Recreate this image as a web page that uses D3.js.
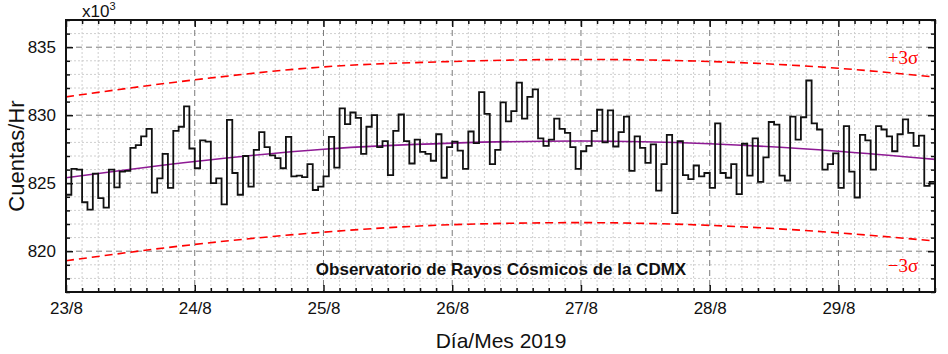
<!DOCTYPE html>
<html lang="es">
<head>
<meta charset="UTF-8">
<title>Cuentas/Hr</title>
<style>
  body { margin: 0; background: #fff; }
  #main { width: 948px; height: 354px; }
  text { font-family: "Liberation Sans", Arial, sans-serif; }
</style>
</head>
<body>
<div id="main"></div>
<script src="https://d3js.org/d3.v7.min.js"></script>
<script>
// ---- data (x 1000 counts per hour, one value per hour from 23/8 00:00) ----
const hourlyCounts = [
  824.15, 826.05, 826.0, 823.6, 823.05, 825.7, 823.9, 823.2, 826.0, 824.7,
  825.85, 825.9, 827.6, 827.8, 828.45, 829.0, 824.3, 825.35, 827.15, 824.65,
  828.85, 829.15, 830.65, 827.55, 826.1, 828.15, 828.05, 825.0, 825.35, 823.45,
  829.65, 825.75, 824.15, 827.0, 824.75, 827.45, 828.75, 827.65, 827.05, 826.85,
  826.1, 828.4, 825.5, 825.55, 825.45, 826.4, 824.5, 824.75, 825.5, 828.4,
  826.15, 830.5, 829.35, 830.2, 829.8, 827.15, 829.15, 830.0, 827.65, 828.1,
  825.6, 828.85, 830.05, 828.1, 826.45, 828.2, 827.3, 827.15, 826.65, 828.6,
  825.4, 827.65, 828.05, 827.4, 826.05, 828.8, 827.95, 831.7, 830.1, 826.4,
  827.45, 830.95, 829.55, 830.3, 832.4, 829.75, 831.35, 831.9, 828.3, 827.75,
  828.2, 829.75, 829.0, 828.7, 827.65, 826.05, 827.35, 827.75, 828.85, 830.4,
  828.0, 830.35, 827.7, 828.75, 829.9, 825.9, 828.45, 827.6, 826.5, 827.85,
  824.45, 826.4, 828.55, 822.8, 828.1, 825.6, 825.3, 826.3, 825.5, 825.75,
  824.65, 829.4, 825.75, 825.4, 826.4, 824.2, 827.9, 825.55, 828.3, 825.1,
  826.9, 829.5, 829.3, 825.55, 825.2, 829.9, 828.2, 829.85, 832.55, 829.4,
  828.95, 826.0, 826.4, 827.2, 824.65, 829.2, 825.85, 823.95, 828.55, 828.15,
  826.0, 829.2, 828.95, 828.45, 827.35, 828.6, 829.7, 828.7, 827.75, 828.5,
  824.8, 825.1
];

// fitted trend and +-3 sigma bands, read at each day and at the end
const curveHours = [0, 24, 48, 72, 96, 120, 144, 162];
const fitValues  = [825.4, 826.6, 827.5, 827.95, 828.1, 827.9, 827.35, 826.75];
const upperBand  = [831.35, 832.6, 833.55, 833.95, 834.1, 833.95, 833.45, 832.8];
const lowerBand  = [819.3, 820.5, 821.4, 821.95, 822.1, 821.9, 821.35, 820.75];

// axis ticks
const dayHours  = [0, 24, 48, 72, 96, 120, 144];
const dayLabels = ['23/8', '24/8', '25/8', '26/8', '27/8', '28/8', '29/8'];
const yMajor    = [820, 825, 830, 835];

// ---- container ----
const W = 948, H = 354;
const pLeft = 66, pRight = 935, pTop = 20, pBottom = 292;

const svg = d3.select('#main').append('svg')
  .attr('width', W).attr('height', H)
  .attr('viewBox', `0 0 ${W} ${H}`);

const x = d3.scaleLinear().domain([0, 162]).range([pLeft, pRight]);
const y = d3.scaleLinear().domain([817, 837]).range([pBottom, pTop]);

const xMinor = d3.range(0, 163, 3).filter(h => h % 24 !== 0);
const yMinor = d3.range(817, 838, 1).filter(v => !yMajor.includes(v));

// ---- grid ----
const grid = svg.append('g');
grid.selectAll('.vmin').data(xMinor).join('line')
  .attr('x1', d => x(d)).attr('x2', d => x(d)).attr('y1', pTop).attr('y2', pBottom)
  .attr('stroke', '#cfcfcf').attr('stroke-dasharray', '2,2');
grid.selectAll('.hmin').data(yMinor).join('line')
  .attr('x1', pLeft).attr('x2', pRight).attr('y1', d => y(d)).attr('y2', d => y(d))
  .attr('stroke', '#cfcfcf').attr('stroke-dasharray', '2,2');
grid.selectAll('.vmaj').data(dayHours.slice(1)).join('line')
  .attr('x1', d => x(d)).attr('x2', d => x(d)).attr('y1', pTop).attr('y2', pBottom)
  .attr('stroke', '#7a7a7a').attr('stroke-dasharray', '6,4');
grid.selectAll('.hmaj').data(yMajor).join('line')
  .attr('x1', pLeft).attr('x2', pRight).attr('y1', d => y(d)).attr('y2', d => y(d))
  .attr('stroke', '#7a7a7a').attr('stroke-dasharray', '6,4');

// ---- curves ----
svg.append('clipPath').attr('id', 'plot')
  .append('rect').attr('x', pLeft).attr('y', pTop)
  .attr('width', pRight - pLeft).attr('height', pBottom - pTop);
const plot = svg.append('g').attr('clip-path', 'url(#plot)');

const smooth = d3.line().x(d => x(d[0])).y(d => y(d[1])).curve(d3.curveMonotoneX);

[upperBand, lowerBand].forEach(band => {
  plot.append('path')
    .datum(curveHours.map((h, i) => [h, band[i]]))
    .attr('d', smooth)
    .attr('fill', 'none').attr('stroke', '#ff0000')
    .attr('stroke-width', 1.6).attr('stroke-dasharray', '8,5');
});

plot.append('path')
  .datum(curveHours.map((h, i) => [h, fitValues[i]]))
  .attr('d', smooth)
  .attr('fill', 'none').attr('stroke', '#8e1a94').attr('stroke-width', 1.6);

const stepPts = hourlyCounts.map((v, i) => [i, v]);
stepPts.push([hourlyCounts.length, hourlyCounts[hourlyCounts.length - 1]]);
plot.append('path')
  .datum(stepPts)
  .attr('d', d3.line().x(d => x(d[0])).y(d => y(d[1])).curve(d3.curveStepAfter))
  .attr('fill', 'none').attr('stroke', '#111').attr('stroke-width', 1.8);

// ---- axes (inward ticks on all four sides) ----
function styleAxis(g) {
  g.select('.domain').remove();
  g.selectAll('line').attr('stroke', '#111').attr('stroke-width', 1.5);
}
const tickFont = g => g.selectAll('text')
  .attr('font-size', '17px').attr('fill', '#111')
  .style('font-family', '"Liberation Sans", Arial, sans-serif');

// bottom
svg.append('g').attr('transform', `translate(0,${pBottom})`)
  .call(d3.axisBottom(x).tickValues(xMinor).tickSize(-4).tickFormat(''))
  .call(styleAxis);
svg.append('g').attr('transform', `translate(0,${pBottom})`)
  .call(d3.axisBottom(x).tickValues(dayHours).tickSize(-7).tickPadding(10)
    .tickFormat((d, i) => dayLabels[i]))
  .call(styleAxis).call(tickFont);
// top
svg.append('g').attr('transform', `translate(0,${pTop})`)
  .call(d3.axisTop(x).tickValues(xMinor).tickSize(-4).tickFormat(''))
  .call(styleAxis);
svg.append('g').attr('transform', `translate(0,${pTop})`)
  .call(d3.axisTop(x).tickValues(dayHours).tickSize(-7).tickFormat(''))
  .call(styleAxis);
// left
svg.append('g').attr('transform', `translate(${pLeft},0)`)
  .call(d3.axisLeft(y).tickValues(yMinor).tickSize(-4).tickFormat(''))
  .call(styleAxis);
svg.append('g').attr('transform', `translate(${pLeft},0)`)
  .call(d3.axisLeft(y).tickValues(yMajor).tickSize(-7).tickPadding(10).tickFormat(d3.format('d')))
  .call(styleAxis).call(tickFont);
// right
svg.append('g').attr('transform', `translate(${pRight},0)`)
  .call(d3.axisRight(y).tickValues(yMinor).tickSize(-4).tickFormat(''))
  .call(styleAxis);
svg.append('g').attr('transform', `translate(${pRight},0)`)
  .call(d3.axisRight(y).tickValues(yMajor).tickSize(-7).tickFormat(''))
  .call(styleAxis);

// frame
svg.append('rect')
  .attr('x', pLeft).attr('y', pTop).attr('width', pRight - pLeft).attr('height', pBottom - pTop)
  .attr('fill', 'none').attr('stroke', '#111').attr('stroke-width', 2);

// ---- texts ----
const mult = svg.append('text').attr('x', 82).attr('y', 17)
  .attr('font-size', '17px').attr('fill', '#111');
mult.append('tspan').text('x10');
mult.append('tspan').attr('dy', -7).attr('font-size', '11px').text('3');

svg.append('text')
  .attr('transform', `translate(24,${(pTop + pBottom) / 2}) rotate(-90)`)
  .attr('text-anchor', 'middle')
  .attr('font-size', '22px').attr('fill', '#111')
  .text('Cuentas/Hr');

svg.append('text')
  .attr('x', 501).attr('y', 348)
  .attr('text-anchor', 'middle')
  .attr('font-size', '21px').attr('fill', '#111')
  .text('Día/Mes 2019');

svg.append('text')
  .attr('x', 501).attr('y', 275)
  .attr('text-anchor', 'middle')
  .attr('font-size', '17px').attr('font-weight', 'bold').attr('fill', '#111')
  .text('Observatorio de Rayos Cósmicos de la CDMX');

svg.append('text')
  .attr('x', 903).attr('y', 64)
  .attr('text-anchor', 'middle')
  .attr('font-size', '19px').attr('fill', '#ff0000')
  .style('font-family', '"Liberation Serif", "Times New Roman", serif')
  .text('+3σ');

svg.append('text')
  .attr('x', 903).attr('y', 272)
  .attr('text-anchor', 'middle')
  .attr('font-size', '19px').attr('fill', '#ff0000')
  .style('font-family', '"Liberation Serif", "Times New Roman", serif')
  .text('\u22123σ');
</script>
</body>
</html>
